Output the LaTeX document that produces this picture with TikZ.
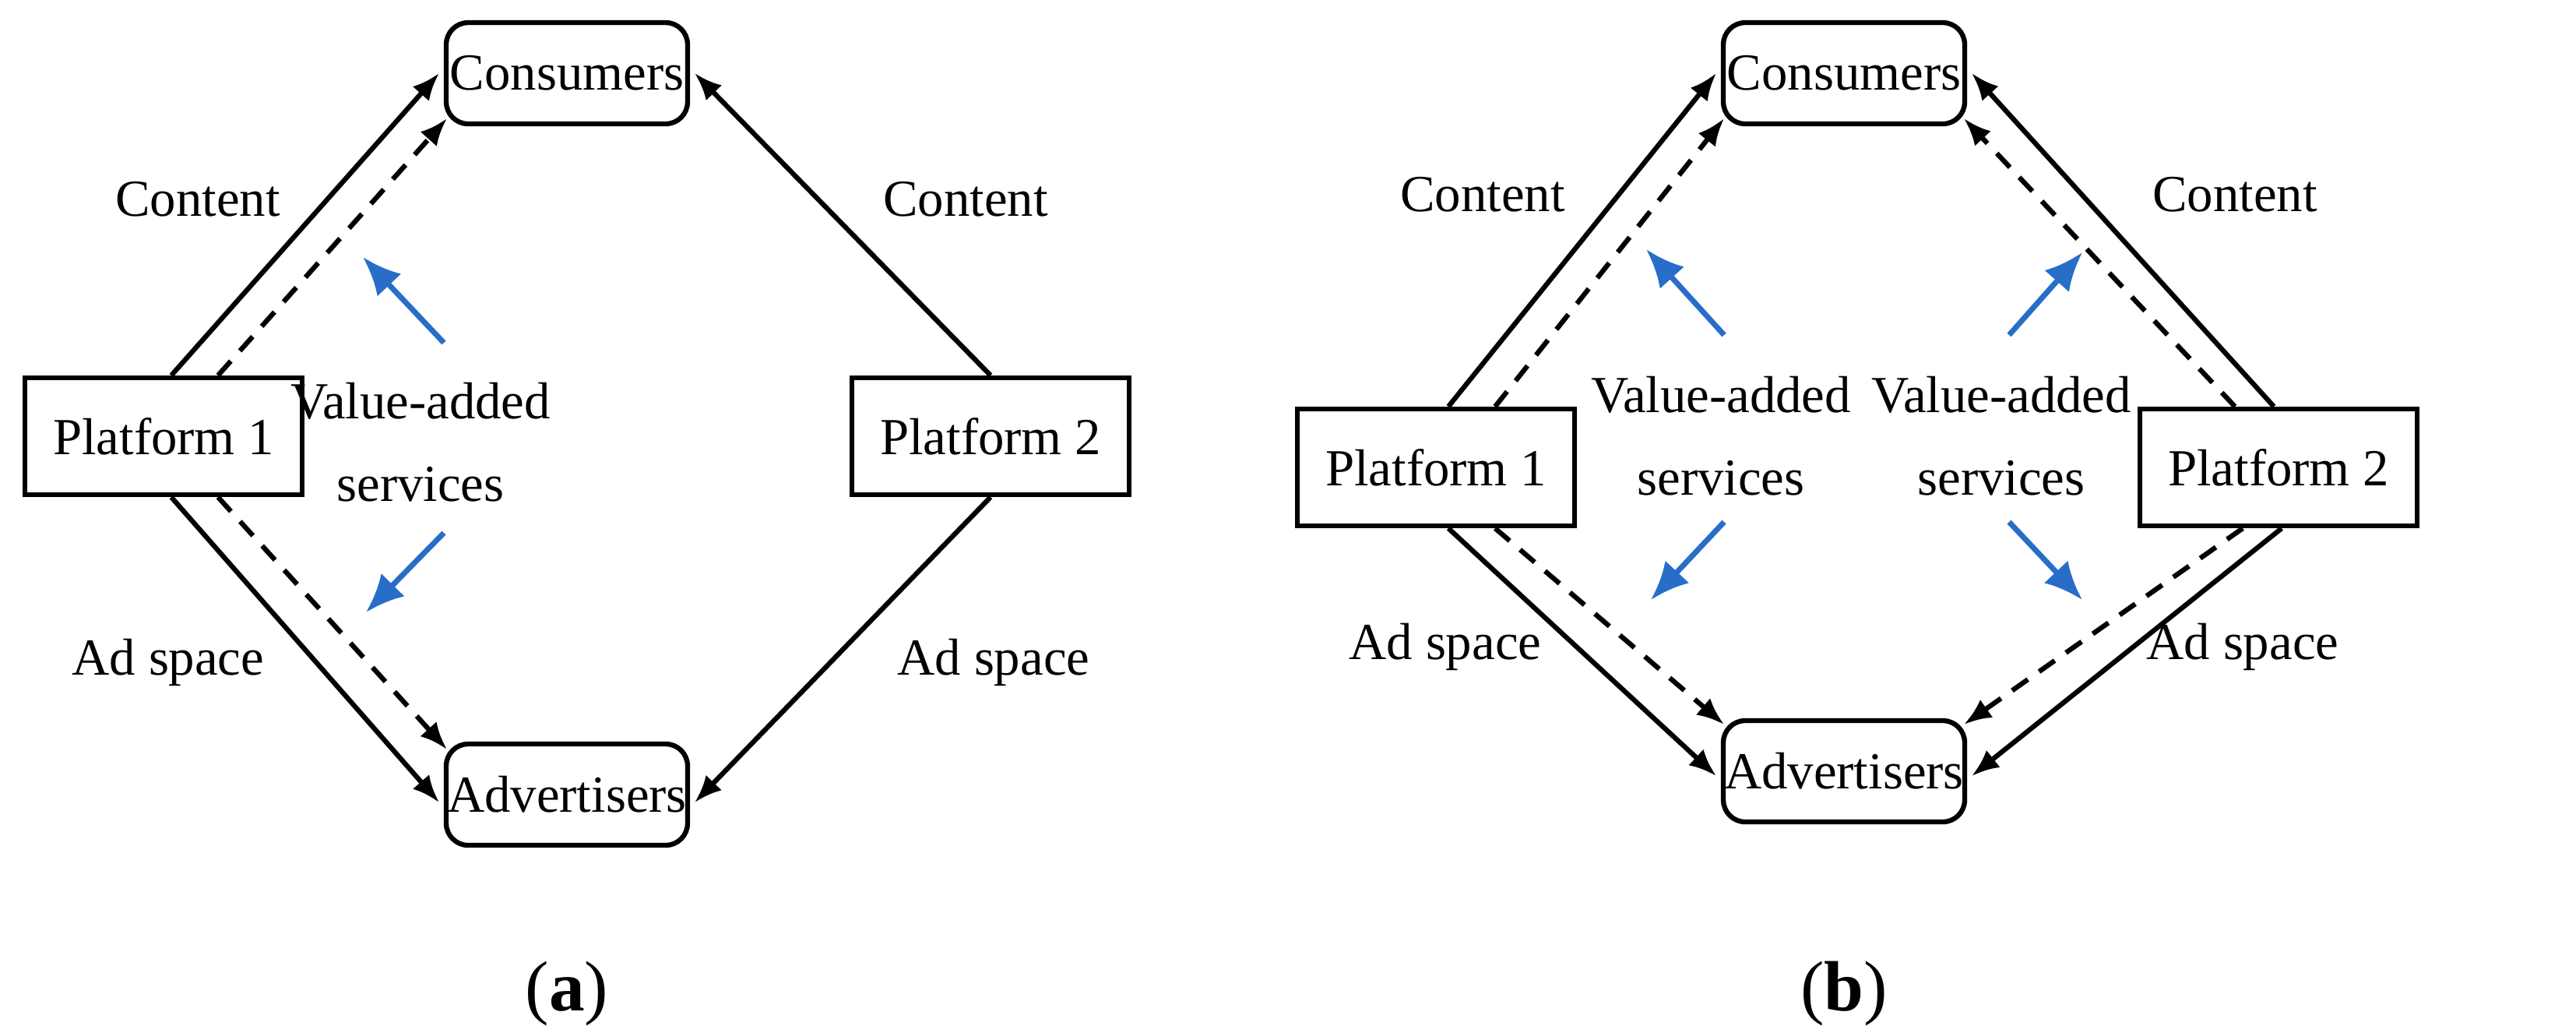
\documentclass[tikz,border=0pt]{standalone}
\usepackage{fontspec}
\setmainfont{Liberation Serif}
\usetikzlibrary{arrows.meta}
\begin{document}
\begin{tikzpicture}[x=0.02cm,y=-0.02cm,font=\fontsize{19}{23}\selectfont,
 rbox/.style={draw,line width=1.8pt,rounded corners=8pt,minimum width=3.1cm,minimum height=1.3cm,inner sep=0pt},
 sbox/.style={draw,line width=1.8pt,minimum width=3.56cm,minimum height=1.5cm,inner sep=0pt},
 con/.style={line width=1.8pt,-{Latex[length=10pt,width=8pt]}},
 dcon/.style={con,dash pattern=on 7pt off 5pt},
 blue/.style={draw={rgb,255:red,40;green,110;blue,200},line width=2pt,-{Latex[length=14pt,width=12pt]}},
 lbl/.style={align=center,inner sep=0pt}]
\useasboundingbox (0,0) rectangle (1654,662.5);
% ---------- panel a
\node[rbox] (ca) at (364,47) {Consumers};
\node[rbox] (aa) at (364,510) {Advertisers};
\node[sbox] (p1a) at (105,280) {Platform 1};
\node[sbox] (p2a) at (636,280) {Platform 2};
\draw[con] ([xshift=0.1cm]p1a.north) -- ([xshift=-0.06cm]ca.west);
\draw[dcon] ([xshift=0.7cm]p1a.north) -- ([xshift=0.04cm,yshift=0.1cm]ca.south west);
\draw[con] ([xshift=0.1cm]p1a.south) -- ([xshift=-0.06cm,yshift=-0.1cm]aa.west);
\draw[dcon] ([xshift=0.7cm]p1a.south) -- ([xshift=0.04cm,yshift=-0.1cm]aa.north west);
\draw[con] (p2a.north) -- ([xshift=0.06cm]ca.east);
\draw[con] (p2a.south) -- ([xshift=0.06cm,yshift=-0.1cm]aa.east);
\node[lbl] (t1) at (127,128) {Content};
\node[lbl] (t2) at (620,128) {Content};
\node[lbl] (t3) at (108,425) {Ad space};
\node[lbl] (t4) at (638,425) {Ad space};
\node[lbl] (va) at (270,284) {Value-added\\[0.25cm]services};
\coordinate (b1s) at (285,220); \coordinate (b1e) at (233,165);
\coordinate (b2s) at (285,342); \coordinate (b2e) at (235,393);
\draw[blue] (b1s) -- (b1e);
\draw[blue] (b2s) -- (b2e);
\node[lbl,font=\fontsize{26}{30}\selectfont] (la) at (364,638) {(\textbf{a})};
% ---------- panel b
\node[rbox] (cb) at (1184,47) {Consumers};
\node[rbox] (ab) at (1184,495) {Advertisers};
\node[sbox] (p1b) at (922,300) {Platform 1};
\node[sbox] (p2b) at (1463,300) {Platform 2};
\draw[con] ([xshift=0.16cm]p1b.north) -- ([xshift=-0.06cm]cb.west);
\draw[dcon] ([xshift=0.76cm]p1b.north) -- ([xshift=0.04cm,yshift=0.1cm]cb.south west);
\draw[con] ([xshift=0.16cm]p1b.south) -- ([xshift=-0.06cm,yshift=-0.06cm]ab.west);
\draw[dcon] ([xshift=0.76cm]p1b.south) -- ([xshift=0.04cm,yshift=-0.08cm]ab.north west);
\draw[con] ([xshift=-0.06cm]p2b.north) -- ([xshift=0.06cm]cb.east);
\draw[dcon] ([xshift=-0.56cm]p2b.north) -- ([xshift=-0.04cm,yshift=0.1cm]cb.south east);
\draw[con] ([xshift=0.04cm]p2b.south) -- ([xshift=0.06cm,yshift=-0.06cm]ab.east);
\draw[dcon] ([xshift=-0.46cm]p2b.south) -- ([xshift=-0.04cm,yshift=-0.08cm]ab.north east);
\node[lbl] (t5) at (952,125) {Content};
\node[lbl] (t6) at (1435,125) {Content};
\node[lbl] (t7) at (928,415) {Ad space};
\node[lbl] (t8) at (1440,415) {Ad space};
\node[lbl] (vb1) at (1105,280) {Value-added\\[0.25cm]services};
\node[lbl] (vb2) at (1285,280) {Value-added\\[0.25cm]services};
\coordinate (b3s) at (1107,215); \coordinate (b3e) at (1057,160);
\coordinate (b4s) at (1107,335); \coordinate (b4e) at (1060,385);
\coordinate (b5s) at (1290,215); \coordinate (b5e) at (1337,162);
\coordinate (b6s) at (1290,335); \coordinate (b6e) at (1337,385);
\draw[blue] (b3s) -- (b3e);
\draw[blue] (b4s) -- (b4e);
\draw[blue] (b5s) -- (b5e);
\draw[blue] (b6s) -- (b6e);
\node[lbl,font=\fontsize{26}{30}\selectfont] (lb) at (1184,638) {(\textbf{b})};
\end{tikzpicture}
\end{document}
